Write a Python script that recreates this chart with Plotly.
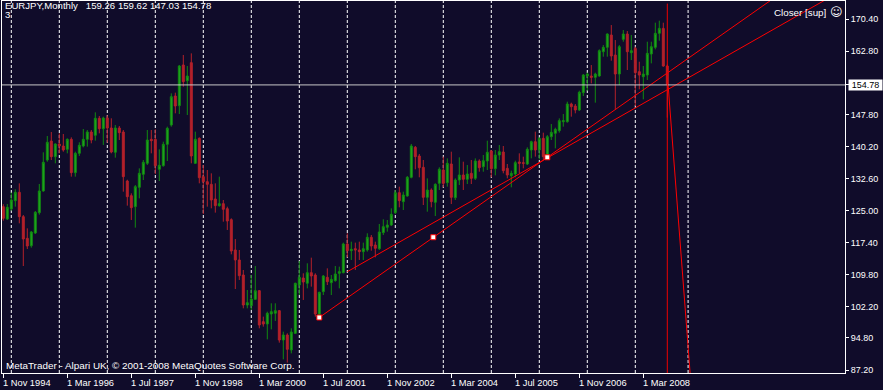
import plotly.graph_objects as go

# ---------------- data (EURJPY monthly) ----------------
opens = [125.92, 123.00, 125.37, 127.34, 129.32, 123.55, 118.41, 116.67, 119.67, 124.49,
         129.63, 136.98, 141.48, 137.77, 140.77, 140.30, 139.51, 141.88, 133.98, 138.56,
         140.30, 141.88, 143.62, 142.83, 146.86, 144.40, 146.93, 144.56, 138.80, 144.56,
         143.62, 132.00, 128.52, 125.92, 130.50, 133.58, 136.19, 141.88, 141.88, 134.77,
         135.63, 140.69, 145.27, 152.15, 149.86, 159.50, 155.78, 160.05, 136.19, 142.11,
         133.03, 131.84, 131.21, 127.74, 126.16, 126.63, 125.44, 122.84, 115.65, 113.28,
         109.72, 102.61, 102.45, 103.95, 106.01, 98.66, 98.11, 100.48, 100.64, 101.27,
         94.31, 95.50, 91.95, 95.89, 107.35, 109.01, 107.75, 110.27, 109.72, 100.40,
         105.77, 109.17, 107.90, 108.38, 110.12, 110.27, 117.07, 115.49, 115.96, 115.65,
         115.25, 115.65, 118.65, 116.83, 115.96, 119.76, 121.02, 121.57, 124.50, 129.24,
         127.10, 128.45, 132.87, 139.98, 137.93, 135.24, 128.13, 129.87, 126.94, 131.45,
         134.61, 131.61, 136.03, 128.05, 132.24, 133.42, 132.40, 133.82, 132.63, 136.74,
         135.40, 136.74, 139.11, 134.92, 138.16, 138.87, 135.00, 133.26, 133.66, 136.51,
         136.35, 136.03, 139.35, 141.32, 139.35, 142.11, 138.16, 142.51, 143.30, 143.93,
         146.06, 146.06, 150.25, 149.78, 148.83, 152.94, 156.89, 156.89, 156.57, 156.89,
         162.65, 163.68, 166.60, 161.86, 157.36, 165.58, 166.84, 162.42, 163.44, 157.91,
         156.73, 157.12, 162.10, 163.68, 167.00, 168.18, 159.26]
highs = [126.50, 126.55, 129.24, 130.03, 131.45, 123.94, 120.78, 120.15, 124.89, 131.29,
         138.80, 142.67, 143.62, 140.93, 143.30, 143.14, 142.11, 142.35, 138.95, 141.17,
         144.33, 144.09, 144.09, 148.28, 147.41, 147.25, 147.57, 146.86, 145.27, 145.04,
         144.09, 132.30, 129.08, 131.05, 135.00, 136.98, 144.09, 144.09, 144.25, 139.51,
         141.32, 144.88, 152.78, 152.94, 159.50, 161.87, 159.26, 162.26, 143.70, 142.35,
         135.79, 134.61, 133.82, 131.45, 133.03, 127.50, 125.92, 123.15, 118.25, 115.65,
         110.91, 106.17, 109.72, 111.85, 106.17, 99.85, 101.03, 103.01, 103.01, 101.43,
         96.29, 95.89, 97.08, 107.90, 113.04, 110.12, 112.49, 113.83, 110.12, 105.77,
         109.72, 111.30, 109.72, 111.85, 111.70, 117.39, 119.60, 117.62, 117.39, 117.62,
         117.39, 119.60, 119.20, 117.62, 121.81, 122.92, 122.76, 125.52, 129.87, 130.66,
         129.47, 133.19, 140.77, 140.30, 138.40, 136.98, 132.63, 130.26, 131.45, 135.24,
         137.77, 137.37, 138.95, 132.63, 137.61, 136.58, 135.79, 136.98, 137.37, 137.14,
         138.16, 141.56, 139.35, 139.35, 140.53, 140.30, 136.03, 134.45, 136.82, 138.56,
         137.77, 139.98, 141.56, 143.70, 142.35, 143.46, 142.90, 145.51, 144.64, 146.85,
         147.88, 150.80, 150.57, 150.25, 153.41, 157.36, 157.68, 159.49, 157.68, 163.21,
         164.23, 167.00, 168.97, 165.42, 164.23, 167.79, 167.55, 166.60, 163.84, 160.28,
         159.26, 165.02, 165.02, 169.53, 170.00, 169.53, 159.62]
lows = [122.60, 122.76, 124.97, 125.92, 121.97, 111.85, 115.88, 116.20, 119.44, 124.02,
        129.47, 136.58, 136.98, 136.19, 138.56, 138.95, 138.56, 133.03, 133.03, 137.93,
        139.98, 140.14, 140.93, 141.56, 143.30, 140.54, 141.09, 138.56, 137.53, 141.72,
        129.47, 126.16, 122.76, 120.94, 127.89, 132.24, 135.79, 138.56, 133.66, 131.99,
        135.40, 136.74, 144.88, 148.04, 147.88, 154.36, 147.65, 136.19, 136.03, 131.45,
        124.18, 125.92, 125.52, 124.50, 125.92, 122.36, 120.39, 114.62, 106.40, 108.54,
        101.82, 101.82, 101.43, 103.80, 97.08, 97.48, 94.47, 96.84, 98.82, 93.68,
        89.73, 88.94, 91.15, 95.74, 104.98, 103.80, 106.56, 106.96, 99.85, 99.85,
        104.98, 107.35, 104.98, 108.14, 106.56, 110.12, 113.91, 113.28, 110.91, 113.28,
        113.28, 115.25, 115.49, 113.91, 115.65, 119.20, 119.99, 121.34, 124.18, 125.76,
        125.13, 128.29, 132.63, 134.77, 132.87, 126.31, 124.73, 125.76, 123.70, 129.87,
        130.50, 130.66, 126.55, 127.50, 131.05, 129.87, 131.29, 131.29, 132.24, 134.21,
        134.21, 134.61, 132.87, 133.34, 136.98, 133.82, 132.63, 130.50, 132.87, 133.82,
        135.00, 135.79, 137.37, 137.77, 137.14, 136.98, 137.77, 141.72, 139.74, 143.46,
        144.88, 145.83, 147.25, 148.04, 148.59, 152.15, 153.41, 155.15, 150.57, 156.73,
        161.47, 161.47, 160.52, 148.99, 154.75, 165.02, 158.31, 160.68, 149.78, 153.73,
        151.36, 155.94, 159.89, 163.21, 165.26, 159.10, 147.03]
closes = [123.15, 125.76, 127.50, 129.32, 123.55, 118.25, 116.59, 119.91, 124.57, 129.63,
          136.43, 141.17, 137.77, 140.77, 140.30, 139.35, 141.88, 133.98, 138.56, 140.46,
          141.88, 143.62, 141.72, 146.86, 144.40, 146.93, 144.56, 138.87, 144.56, 143.46,
          133.03, 128.29, 125.68, 130.66, 133.82, 136.43, 141.72, 141.56, 135.63, 135.72,
          140.69, 144.48, 151.99, 149.78, 159.26, 155.55, 156.89, 137.93, 141.88, 132.79,
          131.84, 131.21, 127.50, 126.16, 126.63, 125.29, 122.52, 115.41, 113.28, 109.56,
          102.61, 103.16, 104.03, 106.01, 97.87, 98.11, 100.64, 101.03, 101.27, 94.31,
          95.50, 92.10, 96.21, 107.75, 109.17, 108.06, 110.27, 109.48, 100.48, 105.61,
          109.48, 108.14, 108.69, 109.96, 110.51, 117.07, 115.49, 115.81, 115.65, 115.25,
          115.96, 118.65, 116.59, 116.04, 119.91, 121.18, 121.57, 124.10, 129.24, 127.34,
          128.68, 132.87, 140.30, 137.77, 135.16, 128.13, 129.87, 127.10, 131.21, 134.77,
          131.45, 136.19, 128.13, 132.24, 133.42, 132.40, 133.66, 132.63, 136.74, 135.16,
          136.82, 138.80, 134.92, 138.16, 138.95, 134.45, 133.42, 133.82, 136.35, 136.19,
          136.19, 139.51, 141.32, 139.35, 142.11, 137.77, 142.51, 143.53, 144.25, 146.30,
          146.30, 150.25, 149.62, 148.83, 153.02, 157.12, 157.36, 156.57, 157.36, 162.89,
          163.68, 166.84, 161.63, 157.36, 163.84, 166.84, 162.65, 162.89, 157.68, 157.12,
          157.36, 162.26, 163.84, 167.00, 168.18, 159.26, 154.78]

x_tick_bars = [0, 16, 32, 48, 64, 80, 96, 112, 128, 144, 160]
x_tick_labels = ["1 Nov 1994", "1 Mar 1996", "1 Jul 1997", "1 Nov 1998", "1 Mar 2000",
                 "1 Jul 2001", "1 Nov 2002", "1 Mar 2004", "1 Jul 2005", "1 Nov 2006",
                 "1 Mar 2008"]
y_tick_values = [170.40, 162.80, 154.78, 147.80, 140.20, 132.60, 125.00, 117.40,
                 109.80, 102.20, 94.80, 87.20]
y_tick_labels = ["170.40", "162.80", "", "147.80", "140.20", "132.60", "125.00",
                 "117.40", "109.80", "102.20", "94.80", "87.20"]
grid_bars = [2, 14, 26, 38, 50, 62, 74, 86, 98, 110, 122, 134, 146, 158, 171.2]
header_values = ["159.26", "159.62", "147.03", "154.78"]
current_price = 154.78
trend_a_x = [79.0, 136.0]
trend_a_y = [99.65, 137.62]
trend_b_x = [86.0, 203.7]
trend_b_y = [110.50, 173.96]
trend_c_x = [166.2, 171.7]
trend_c_y = [154.78, 86.50]
marker_x = [79.0, 107.5, 136.0]
marker_y = [99.65, 118.67, 137.62]
vline_bar = 166

# ---------------- geometry ----------------
W, H = 883, 390
PX_L, PX_R, PX_T, PX_B = 2, 845, 1, 373
X_RANGE = [-0.325, 210.425]
Y_RANGE = [86.49, 174.67]
BG = "#100c2a"
FONT = "Liberation Sans, Arial, sans-serif"
NB = "\u00a0"


def px_to_paper_x(px):
    return (px - PX_L) / (PX_R - PX_L)


def px_to_paper_y(py):
    return (PX_B - py) / (PX_B - PX_T)


def extend(xs, ys, x_end):
    slope = (ys[1] - ys[0]) / (xs[1] - xs[0])
    return [xs[0], x_end], [ys[0], ys[0] + slope * (x_end - xs[0])]


bars = list(range(len(opens)))

fig = go.Figure()
fig.add_trace(go.Candlestick(
    x=bars, open=opens, high=highs, low=lows, close=closes,
    increasing=dict(line=dict(color="#118a11", width=1), fillcolor="#22a822"),
    decreasing=dict(line=dict(color="#b3212a", width=1), fillcolor="#b3212a"),
    whiskerwidth=0, hoverinfo="skip", showlegend=False,
))

for xs, ys, xe in [(trend_a_x, trend_a_y, 215), (trend_b_x, trend_b_y, 215),
                   (trend_c_x, trend_c_y, 173)]:
    ex, ey = extend(xs, ys, xe)
    fig.add_trace(go.Scatter(x=ex, y=ey, mode="lines",
                             line=dict(color="#ff0000", width=1),
                             hoverinfo="skip", showlegend=False))

fig.add_trace(go.Scatter(x=marker_x, y=marker_y, mode="markers",
                         marker=dict(symbol="square", size=5, color="white",
                                     line=dict(color="#ff0000", width=1)),
                         hoverinfo="skip", showlegend=False))

shapes = []
for g in grid_bars:
    shapes.append(dict(type="line", xref="x", yref="paper", x0=g, x1=g, y0=0, y1=1,
                       line=dict(color="white", width=1, dash="3px,2px"), layer="below"))
shapes.append(dict(type="line", xref="paper", yref="y", x0=0, x1=1,
                   y0=current_price, y1=current_price,
                   line=dict(color="#c8c8c8", width=1), layer="above"))
shapes.append(dict(type="line", xref="x", yref="paper", x0=vline_bar, x1=vline_bar,
                   y0=0, y1=0.993, line=dict(color="#ee0000", width=1), layer="above"))

annotations = []
for b, lab in zip(x_tick_bars, x_tick_labels):
    annotations.append(dict(text=lab, xref="x", yref="paper", x=b, xshift=-2,
                            y=px_to_paper_y(382.5), xanchor="left", yanchor="middle",
                            showarrow=False, font=dict(family=FONT, size=9.3, color="white")))

header_text = "EURJPY,Monthly" + NB * 3 + (NB).join(header_values)
annotations.append(dict(text=header_text,
                        xref="paper", yref="paper", x=px_to_paper_x(3), y=px_to_paper_y(5.5),
                        xanchor="left", yanchor="middle", showarrow=False,
                        font=dict(family=FONT, size=9.6, color="white")))
annotations.append(dict(text="3", xref="paper", yref="paper", x=px_to_paper_x(3),
                        y=px_to_paper_y(14.5), xanchor="left", yanchor="middle",
                        showarrow=False, font=dict(family=FONT, size=9.6, color="white")))
annotations.append(dict(text="Closer [sup]", xref="paper", yref="paper",
                        x=px_to_paper_x(829), y=px_to_paper_y(12.5),
                        xanchor="right", yanchor="middle", showarrow=False,
                        font=dict(family=FONT, size=9.8, color="white")))
annotations.append(dict(text="\u263A", xref="paper", yref="paper",
                        x=px_to_paper_x(836), y=px_to_paper_y(12.5),
                        xanchor="center", yanchor="middle", showarrow=False,
                        font=dict(family="DejaVu Sans", size=12, color="white")))
annotations.append(dict(text="MetaTrader - Alpari UK, \u00a9 2001-2008 MetaQuotes Software Corp.",
                        xref="paper", yref="paper", x=px_to_paper_x(4), y=px_to_paper_y(365.5),
                        xanchor="left", yanchor="middle", showarrow=False,
                        font=dict(family=FONT, size=9.9, color="white")))
annotations.append(dict(text=f"{current_price:.2f}", xref="paper", yref="y",
                        x=px_to_paper_x(848), y=current_price, xanchor="left",
                        yanchor="middle", showarrow=False, bgcolor="white",
                        width=31, height=8, borderpad=1,
                        font=dict(family=FONT, size=9, color="black")))

fig.update_layout(
    width=W, height=H,
    margin=dict(l=PX_L, r=W - PX_R, t=PX_T, b=H - PX_B, autoexpand=False),
    paper_bgcolor=BG, plot_bgcolor=BG,
    shapes=shapes, annotations=annotations,
    showlegend=False,
    xaxis=dict(range=X_RANGE, showgrid=False, zeroline=False, showline=True,
               linecolor="white", linewidth=1, mirror=True, ticks="outside",
               tickvals=x_tick_bars, ticklen=4, tickcolor="white",
               showticklabels=False, rangeslider=dict(visible=False),
               fixedrange=True),
    yaxis=dict(range=Y_RANGE, side="right", showgrid=False, zeroline=False,
               showline=True, linecolor="white", linewidth=1, mirror=True,
               ticks="outside", ticklen=3, tickcolor="white",
               tickvals=y_tick_values, ticktext=y_tick_labels,
               tickfont=dict(family=FONT, size=9, color="white"), fixedrange=True),
)

fig.write_html("out.html", config={"displayModeBar": False})

# remove the browser's default page margin so the figure sits at (0, 0)
with open("out.html", "r", encoding="utf-8") as fh:
    page = fh.read()
page = page.replace("<head>", "<head><style>html,body{margin:0;padding:0;overflow:hidden;background:%s}</style>" % BG, 1)
with open("out.html", "w", encoding="utf-8") as fh:
    fh.write(page)
